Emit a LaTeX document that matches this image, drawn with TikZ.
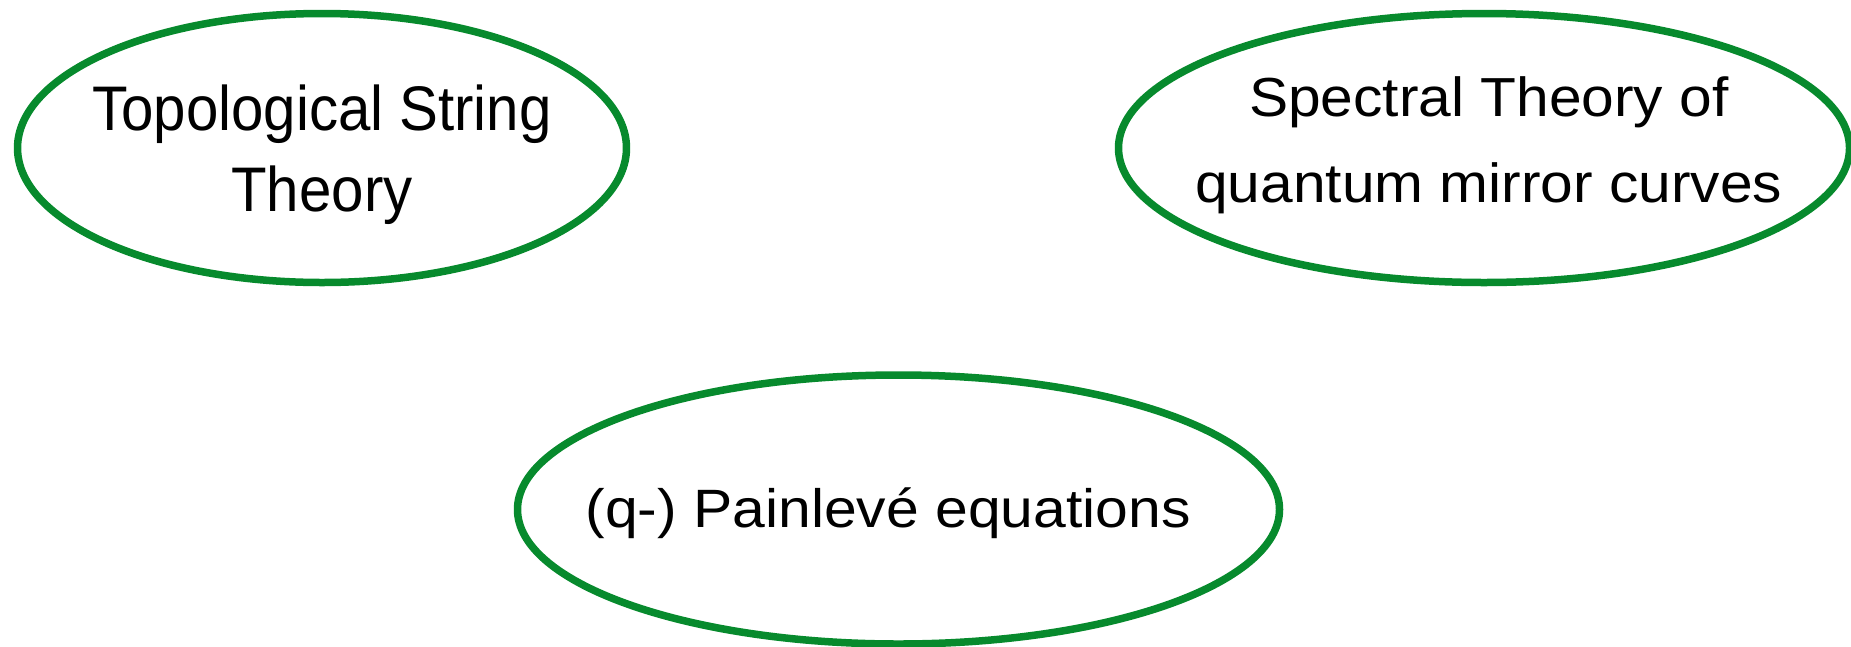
\documentclass[tikz,border=0pt]{standalone}
\usepackage{fontspec}
\setmainfont{Liberation Sans}
\usetikzlibrary{shapes.geometric}
\definecolor{fieldgreen}{HTML}{078A2D}

\begin{document}
\begin{tikzpicture}[x=1pt,y=1pt,
    field/.style = {ellipse,draw=fieldgreen,line width=7.5pt,align=center,
                    inner xsep=-200pt,inner ysep=0pt,transform shape},
  ]
  \useasboundingbox (0,0) rectangle (1851,-646);

  % ── Centres des ellipses ──────────────────────────────────────────────────
  \coordinate (ctop)  at (322,-148);
  \coordinate (cspec) at (1484,-148);
  \coordinate (cpain) at (898.5,-509.5);

  % ── Les trois domaines ────────────────────────────────────────────────────
  \node[field,xscale=0.924,minimum width=609pt/0.924,minimum height=269pt,
        font=\fontsize{63}{81}\selectfont,text height=140.4pt,text depth=13pt]
       (topstring) at (ctop)
       {Topological String\\Theory};
  \node[field,xscale=1.067,minimum width=731pt/1.067,minimum height=269pt,
        font=\fontsize{55}{85.6}\selectfont,text height=120.6pt,text depth=12pt]
       (spectral) at (cspec)
       {\hspace*{9pt}Spectral Theory of\\\hspace*{9pt}quantum mirror curves};
  \node[field,xscale=1.09,minimum width=762pt/1.09,minimum height=269pt,
        font=\fontsize{54}{60}\selectfont,text height=46.4pt,text depth=11.4pt]
       (painleve) at (cpain)
       {(q-) Painlevé equations\hspace*{19pt}};

\end{tikzpicture}
\end{document}
